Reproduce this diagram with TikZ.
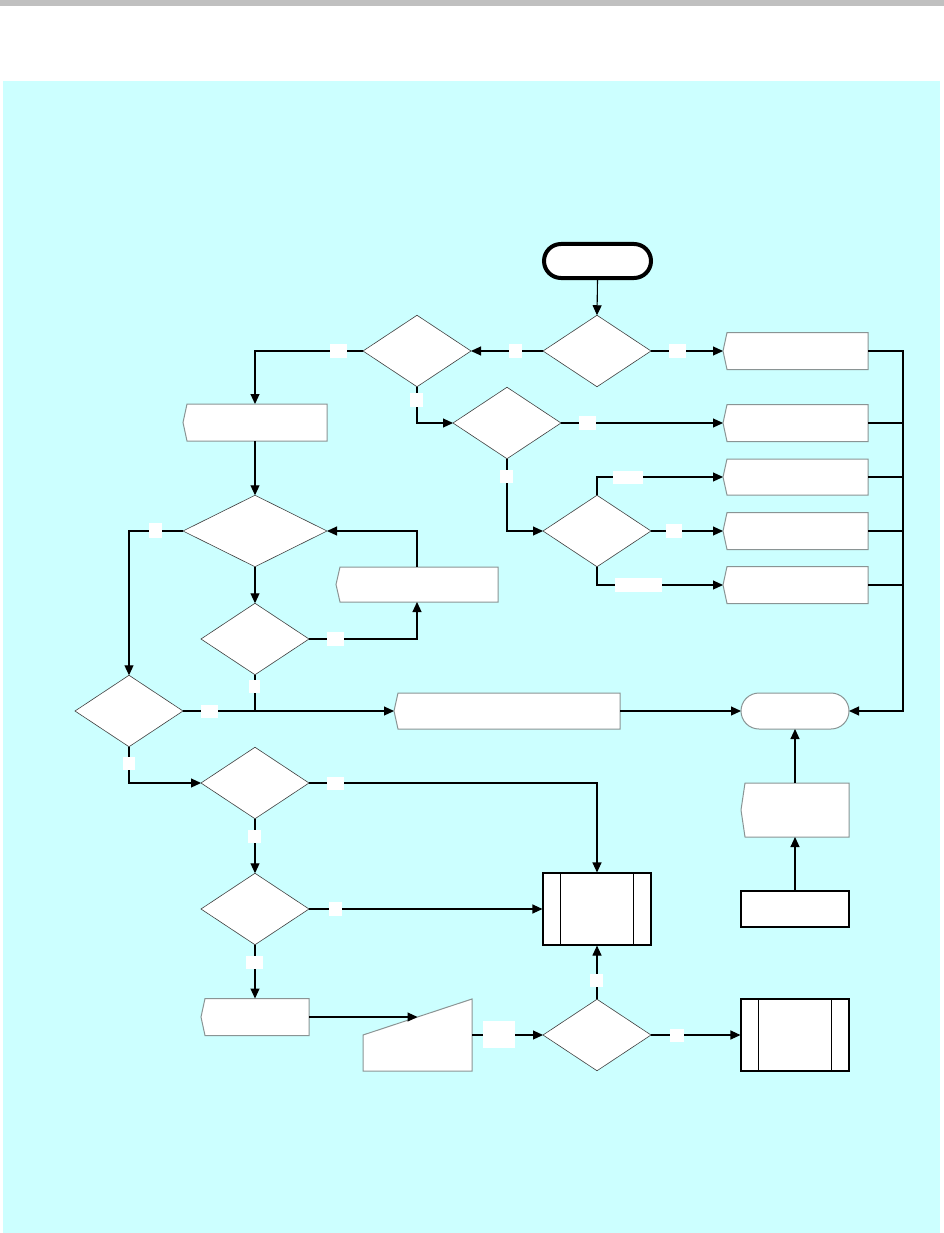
\documentclass[tikz,border=0pt]{standalone}
\usetikzlibrary{arrows.meta,shapes.geometric,calc}
\definecolor{bgcyan}{HTML}{CCFFFF}
\definecolor{bargray}{HTML}{C0C0C0}
\definecolor{edgegray}{HTML}{8A9494}
\definecolor{dgray}{HTML}{404040}
\newcommand{\mydisp}[5]{%
  \node[anch, minimum width=#4pt, minimum height=#5pt] (#1) at (#2,#3) {};
  \draw[dispedge] ([xshift=4pt]#1.north west) -- (#1.west) -- ([xshift=4pt]#1.south west) -- (#1.south east) -- (#1.north east) -- cycle;}
\begin{document}
\begin{tikzpicture}[x=1pt,y=-1pt,
  conn/.style={line width=1.1pt, draw=black},
  arr/.style={conn, -{Triangle[length=10pt,width=9pt]}},
  dec/.style={diamond, draw=dgray, line width=0.6pt, fill=white, inner sep=0pt, outer sep=0pt, minimum width=108pt, minimum height=71.5pt},
  anch/.style={rectangle, inner sep=0pt, outer sep=0pt, draw=none},
  dispedge/.style={draw=edgegray, line width=1pt, fill=white},
  sub/.style={rectangle, draw=black, line width=1.1pt, fill=white, inner sep=0pt, minimum width=108pt, minimum height=72pt},
  startterm/.style={rectangle, rounded corners=17pt, draw=black, line width=4pt, fill=white, inner sep=0pt, minimum width=107pt, minimum height=34pt},
  endterm/.style={rectangle, rounded corners=18pt, draw=edgegray, line width=1pt, fill=white, inner sep=0pt, outer sep=0pt, minimum width=108pt, minimum height=36pt},
  lbl/.style={rectangle, fill=white, inner sep=0pt, draw=none, minimum height=13pt},
]
\useasboundingbox (0,0) rectangle (944,1233);
\fill[bargray] (0,0) rectangle (944,6);
\fill[bgcyan] (3,81) rectangle (940,1233);

% terminals
\node[startterm] (st) at (597.5,261) {};
\node[endterm] (en) at (795,711) {};

% decisions
\node[dec] (d1) at (597,351) {};
\node[dec] (d2) at (417,351) {};
\node[dec] (d3) at (507,423) {};
\node[dec] (d4) at (597,531) {};
\node[dec, minimum width=144pt] (d5) at (255,531) {};
\node[dec] (d6) at (255,639) {};
\node[dec] (d7) at (129,711) {};
\node[dec] (d8) at (255,783) {};
\node[dec] (d9) at (255,909) {};
\node[dec] (d10) at (597,1035) {};

% display boxes
\mydisp{p1}{795.5}{351}{145}{37}
\mydisp{p2}{795.5}{423}{145}{37}
\mydisp{p3}{795.5}{477}{145}{36}
\mydisp{p4}{795.5}{531}{145}{37}
\mydisp{p5}{795.5}{585}{145}{37}
\mydisp{b1}{255}{422.5}{144}{37}
\mydisp{p6}{417}{584.5}{162}{35}
\mydisp{p7}{507}{711}{226}{36}
\mydisp{p8}{255}{1017}{108}{37}
\mydisp{p9}{795}{810}{108}{54}

% manual input
\node[anch, minimum width=109pt, minimum height=72pt] (m1) at (417.5,1035) {};
\draw[dispedge] (m1.west) -- (m1.north east) -- (m1.south east) -- (m1.south west) -- cycle;
\coordinate (m1in) at ($(m1.west)!0.5!(m1.north east)$);

% subprocesses and process
\node[sub] (s1) at (597,909) {};
\draw[conn] ([xshift=18pt]s1.north west) -- ([xshift=18pt]s1.south west);
\draw[conn] ([xshift=-18pt]s1.north east) -- ([xshift=-18pt]s1.south east);
\node[sub] (s2) at (795,1035) {};
\draw[conn] ([xshift=18pt]s2.north west) -- ([xshift=18pt]s2.south west);
\draw[conn] ([xshift=-18pt]s2.north east) -- ([xshift=-18pt]s2.south east);
\node[sub, minimum height=36pt] (b2) at (795,909) {};

% connectors
\draw[arr] (st.south) -- (d1.north);
\draw[arr] (d1.east) -- (p1.west);
\draw[arr] (d1.west) -- (d2.east);
\draw[arr] (d2.west) -| (b1.north);
\draw[arr] (d2.south) |- (d3.west);
\draw[arr] (d3.east) -- (p2.west);
\draw[arr] (d3.south) |- (d4.west);
\draw[arr] (d4.north) |- (p3.west);
\draw[arr] (d4.east) -- (p4.west);
\draw[arr] (d4.south) |- (p5.west);
\coordinate (bt) at (903,351);
\coordinate (bb) at (903,711);
\draw[arr] (p1.east) -- (bt) -- (bb) -- (en.east);
\foreach \p in {p2,p3,p4,p5} \draw[conn] (\p.east) -- (\p.east -| bt);
\draw[arr] (b1.south) -- (d5.north);
\draw[arr] (d5.south) -- (d6.north);
\draw[arr] (d6.east) -| (p6.south);
\draw[arr] (p6.north) |- (d5.east);
\draw[arr] (d5.west) -| (d7.north);
\coordinate (j1) at (d6.south |- d7.east);
\draw[conn] (d6.south) -- (j1);
\draw[arr] (d7.east) -- (p7.west);
\draw[arr] (p7.east) -- (en.west);
\draw[arr] (d7.south) |- (d8.west);
\draw[arr] (d8.east) -| (s1.north);
\draw[arr] (d8.south) -- (d9.north);
\draw[arr] (d9.east) -- (s1.west);
\draw[arr] (d9.south) -- (p8.north);
\draw[arr] (p8.east) -- (m1in);
\draw[arr] (m1.east) -- (d10.west);
\draw[arr] (d10.north) -- (s1.south);
\draw[arr] (d10.east) -- (s2.west);
\draw[arr] (b2.north) -- (p9.south);
\draw[arr] (p9.north) -- (en.south);

% label boxes
\node[lbl, minimum width=17pt, minimum height=14pt] (l1) at (677.5,351) {};
\node[lbl, minimum width=13pt, minimum height=14pt] (l2) at (515.5,351) {};
\node[lbl, minimum width=17pt, minimum height=14pt] (l3) at (338.5,351) {};
\node[lbl, minimum width=13pt, minimum height=14pt] (l4) at (416.5,400) {};
\node[lbl, minimum width=17pt, minimum height=14pt] (l5) at (587.5,423) {};
\node[lbl, minimum width=13pt] (l6) at (506.5,476.5) {};
\node[lbl, minimum width=30pt] (l7) at (628,477) {};
\node[lbl, minimum width=16pt, minimum height=14pt] (l8) at (674,531) {};
\node[lbl, minimum width=47pt, minimum height=14pt] (l9) at (638.5,585) {};
\node[lbl, minimum width=13pt, minimum height=15pt] (l10) at (155.5,530) {};
\node[lbl, minimum width=17pt, minimum height=14pt] (l11) at (335.5,639) {};
\node[lbl, minimum width=11pt] (l12) at (254.5,686.5) {};
\node[lbl, minimum width=17pt] (l13) at (209.5,711) {};
\node[lbl, minimum width=12pt] (l14) at (129,763) {};
\node[lbl, minimum width=17pt] (l15) at (335.5,783) {};
\node[lbl, minimum width=13pt] (l16) at (254.5,836.5) {};
\node[lbl, minimum width=13pt, minimum height=14pt] (l17) at (335.5,909) {};
\node[lbl, minimum width=17pt] (l18) at (254.5,962.5) {};
\node[lbl, minimum width=32pt, minimum height=27pt] (l19) at (499,1034.5) {};
\node[lbl, minimum width=13pt] (l20) at (596.5,980.5) {};
\node[lbl, minimum width=14pt] (l21) at (677,1035) {};
\end{tikzpicture}
\end{document}
